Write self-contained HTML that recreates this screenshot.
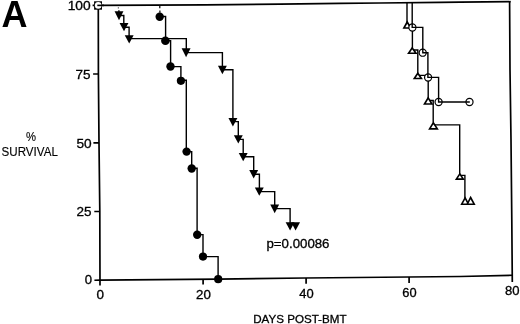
<!DOCTYPE html>
<html><head><meta charset="utf-8"><title>Survival</title>
<style>
html,body{margin:0;padding:0;background:#fff;}
svg{display:block;}
text{font-family:"Liberation Sans",sans-serif;fill:#000;stroke:#000;stroke-width:0.3;}
.ln{fill:none;stroke:#000;stroke-width:1.4;stroke-linejoin:miter;stroke-linecap:butt;}
.ax{fill:none;stroke:#000;stroke-width:1.6;stroke-linecap:butt;stroke-linejoin:miter;}
.fc{fill:#000;stroke:none;}
.ft{fill:#000;stroke:none;}
.oc{fill:#fff;stroke:#000;stroke-width:1.2;}
.ot{fill:#fff;stroke:#000;stroke-width:1.65;stroke-linejoin:miter;}
</style></head><body>
<svg width="520" height="324" viewBox="0 0 520 324">
<rect width="520" height="324" fill="#fff"/>
<!-- axes -->
<polyline class="ax" style="stroke-width:1.7" points="98,5.4 205,4.85 280,4.15 340,3.3 380,3.0 440,2.3 460,2.2 510.6,1.7"/>
<polyline class="ax" style="stroke-width:1.7" points="509.6,1 510,70 511,140 511.8,220 512.3,282"/>
<polyline class="ax" points="94.4,280.2 100,280.1 218,279.1 305,278 409,277 460,276.5 512.9,275.3"/>
<polyline class="ax" style="stroke-width:1.7" points="98.3,9 98.4,74 99,143 99.8,211 100,285.5"/>
<!-- ticks -->
<g class="ax" style="stroke-width:1.7">
<path d="M92.6,5.4H94.5M93.1,74H98.3M93.4,142.8H99M94.3,211.5H99.8"/>
<path d="M203.1,279V284.6M306.1,278V283.8M409.1,277V283"/>
</g>
<!-- labels -->
<g font-size="12.5">
<text x="67.7" y="10.4" font-size="12.1" textLength="23" lengthAdjust="spacingAndGlyphs">100</text>
<text x="75.5" y="78.7" textLength="15" lengthAdjust="spacingAndGlyphs">75</text>
<text x="76.4" y="147.6" textLength="15.2" lengthAdjust="spacingAndGlyphs">50</text>
<text x="76.5" y="215.8" textLength="15" lengthAdjust="spacingAndGlyphs">25</text>
<text x="84.7" y="284.4" textLength="7.3" lengthAdjust="spacingAndGlyphs">0</text>
<text x="96.4" y="299.3" textLength="7.5" lengthAdjust="spacingAndGlyphs">0</text>
<text x="196" y="298.5" textLength="14.8" lengthAdjust="spacingAndGlyphs">20</text>
<text x="299.3" y="297.7" textLength="14.4" lengthAdjust="spacingAndGlyphs">40</text>
<text x="402.3" y="296.75" textLength="14.3" lengthAdjust="spacingAndGlyphs">60</text>
<text x="504.9" y="295.3" textLength="14.5" lengthAdjust="spacingAndGlyphs">80</text>
</g>
<text x="266.5" y="248.3" font-size="12.6" textLength="63" lengthAdjust="spacingAndGlyphs">p=0.00086</text>
<text x="253.2" y="323.1" font-size="11.8" textLength="93.3" lengthAdjust="spacingAndGlyphs">DAYS POST-BMT</text>
<text x="26" y="140.8" font-size="12" style="stroke-width:0.12" textLength="10" lengthAdjust="spacingAndGlyphs">%</text>
<text x="1.6" y="156.1" font-size="12.2" style="stroke-width:0.12" textLength="56.3" lengthAdjust="spacingAndGlyphs">SURVIVAL</text>
<text x="1.6" y="27" font-size="36" font-weight="bold" style="stroke:none">A</text>

<!-- series: filled down triangles -->
<path class="ln" style="stroke:#666;stroke-width:1.2" d="M118.4,7.2V8.4"/>
<path class="ln" d="M118.9,10.3V12"/>
<path class="ln" d="M119,15.5H123.8V23.5M124,27.2H129.1V36M129,38.6H186.3V49M186,52.6H222.4V66.5M222.4,69.8H232.9V118.5M232.9,121.6H238.3V136M238.3,139.4H243.2V153.5M243.2,156.7H253.7V170.5M253.7,174.3H259.4V188M259.3,191.6H274.7V205M274.7,208.6H290.1V223"/>
<g class="ft">
<path d="M114.55,11.30H123.45L119.00,20.20Z"/>
<path d="M119.55,23.00H128.45L124.00,31.30Z"/>
<path d="M124.75,35.20H133.65L129.20,43.60Z"/>
<path d="M181.65,48.30H190.55L186.10,57.30Z"/>
<path d="M217.95,65.80H226.85L222.40,74.30Z"/>
<path d="M228.45,118.00H237.35L232.90,126.60Z"/>
<path d="M233.85,135.30H242.75L238.30,143.60Z"/>
<path d="M238.75,152.90H247.65L243.20,161.20Z"/>
<path d="M249.25,169.90H258.15L253.70,178.60Z"/>
<path d="M254.85,187.50H263.75L259.30,195.80Z"/>
<path d="M270.25,204.50H279.15L274.70,213.20Z"/>
<path d="M285.65,222.20H294.55L290.10,230.50Z"/>
<path d="M291.15,222.20H300.05L295.60,230.50Z"/>
</g>

<!-- series: filled circles -->
<path class="ln" style="stroke-width:1.2" d="M159.8,6V8.2M159.9,10.6V12.8"/>
<path class="ln" d="M160,16.5H165.6V40.7H170.6V66.6H180.9V80.2H186.3V151.6H191.7V168.3H197.1V234.6H203V256.6H218.1V279"/>
<g class="fc">
<circle cx="159.7" cy="16.7" r="4.2"/>
<circle cx="165.4" cy="40.7" r="4.3"/>
<circle cx="170.5" cy="66.5" r="4.2"/>
<circle cx="180.9" cy="80.8" r="4.1"/>
<circle cx="186.6" cy="151.6" r="4.2"/>
<circle cx="191.7" cy="168.5" r="4.2"/>
<circle cx="197.2" cy="234.7" r="4.2"/>
<circle cx="203" cy="256.6" r="4.1"/>
<circle cx="218.2" cy="279.2" r="4.1"/>
</g>

<!-- series: open up triangles / open circles connecting lines -->
<path class="ln" style="stroke-width:1.4" d="M407,3V23M407,25.3H412.4V48M412.1,50H417.8V73.5M417.8,75.4H428.2V98M428.2,100.5H433.2V122.5M433.2,124.9H459.7V174M459.7,175.4H464.9V198"/>
<g class="ot">
<path d="M407.2,22L410.7,28H403.9Z"/>
<path d="M412.2,47.9L416,53.2H408.6Z"/>
<path d="M417.8,73.2L421.4,78.5H414.3Z"/>
<path d="M428.2,97.8L431.9,104H424.5Z"/>
<path d="M433.3,122.8L437.3,128.9H429.6Z"/>
<path d="M459.8,173.9L463.3,179.1H456.4Z"/>
<path d="M465.1,197.9L468.5,204.2H461.7Z"/>
<path d="M470.6,197.5L474.2,204.2H467.3Z"/>
</g>
<g class="oc">
<circle cx="412.4" cy="27.5" r="3.55"/>
<circle cx="422.7" cy="52.7" r="3.55"/>
<circle cx="428.1" cy="77.5" r="3.55"/>
<circle cx="438.6" cy="102" r="3.55"/>
<circle cx="469.5" cy="102" r="3.55"/>
</g>
<path class="ln" style="stroke-width:1.4" d="M412.2,3V27.4H422.8V52.8H427.9V77.4H438.6V102H469.8"/>
<!-- origin marker at (0,100) -->
<rect x="94.1" y="1.3" width="7.9" height="8.4" fill="#000"/>
<circle cx="98.2" cy="5.4" r="3.3" fill="#fff"/>
<path class="ax" d="M97.3,5.4H104"/>
</svg>
</body></html>
